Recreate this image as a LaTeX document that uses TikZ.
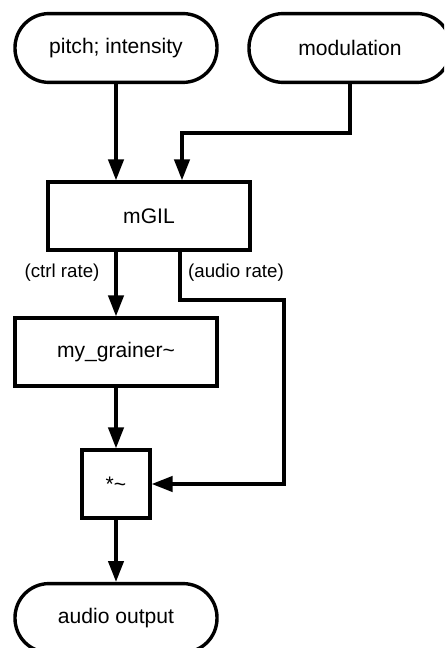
\documentclass[tikz,border=0pt]{standalone}
\usepackage{fontspec}
\setmainfont{Liberation Sans}
\usetikzlibrary{arrows.meta}

\begin{document}
\begin{tikzpicture}[
  every node/.style={font=\fontsize{15}{18}\selectfont},
  T/.style={draw,line width=0.085cm,rounded corners=0.85cm,minimum width=5.05cm,minimum height=1.72cm},
  B/.style={draw,line width=0.085cm,minimum width=5.05cm,minimum height=1.7cm},
  L/.style={font=\fontsize{13.3}{16}\selectfont},
  W/.style={line width=0.085cm,-{Triangle[length=0.52cm,width=0.38cm]}}]
  \useasboundingbox (0,0) rectangle (11.1,16.2);
  \clip (0,0) rectangle (11.1,16.2);
  % inputs
  \node[T] (pitch) at (2.9,15) {pitch; intensity};
  \node[T] (mod) at (8.75,15) {modulation};
  % mGIL and its two outputs
  \node[B] (mgil) at (3.725,10.8) {mGIL};
  \node[L] (ctrl) at (1.55,9.375) {(ctrl rate)};
  \node[L] (audio) at (5.9,9.375) {(audio rate)};
  % grainer, multiplier, output
  \node[B] (grainer) at (2.9,7.4) {my\_grainer\textasciitilde};
  \node[B,minimum width=1.7cm] (mult) at (2.9,4.1) {*\textasciitilde};
  \node[T] (out) at (2.9,0.75) {audio output};
  % inputs into mGIL
  \coordinate (modbend) at (4.55,12.875);
  \draw[W] (pitch.south) -- (pitch.south |- mgil.north);
  \draw[W] (mod.south) |- (modbend) -- (modbend |- mgil.north);
  % ctrl rate
  \draw[W] (mgil.south -| grainer.north) -- (grainer.north);
  % audio rate round the right side
  \coordinate (au1) at (4.5,8.7);
  \coordinate (au2) at (7.1,8.7);
  \draw[W] (au1 |- mgil.south) -- (au1) -- (au2) |- (mult.east);
  % down to the output
  \draw[W] (grainer) -- (mult);
  \draw[W] (mult) -- (out);
\end{tikzpicture}
\end{document}
